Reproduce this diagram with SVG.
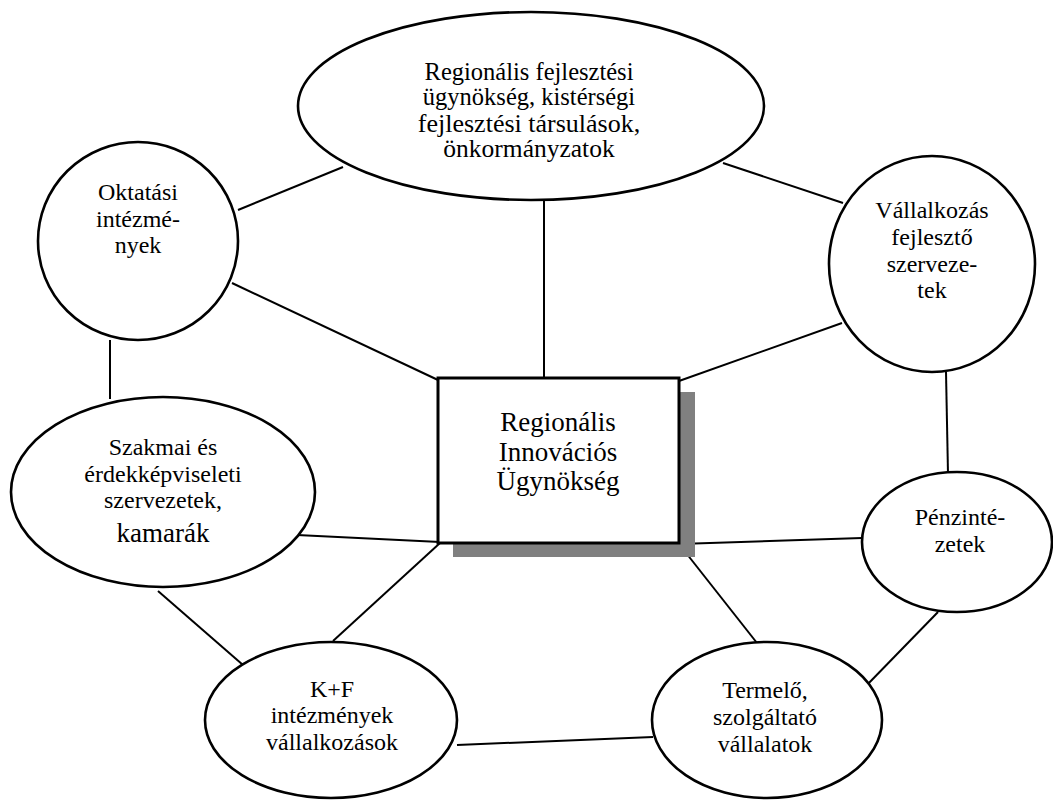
<svg xmlns="http://www.w3.org/2000/svg" width="1053" height="802" viewBox="0 0 1053 802" font-family="Liberation Serif, Times New Roman, serif">
<defs>
<style>
.n{fill:#fff;stroke:#000;stroke-width:2.6}
</style>
</defs>
<rect width="1053" height="802" fill="#fff"/>
<g id="connectors" stroke="#000" stroke-width="2">
<line x1="238" y1="210" x2="343" y2="167"/>
<line x1="723" y1="163" x2="843" y2="203"/>
<line x1="544" y1="200" x2="544" y2="378"/>
<line x1="232" y1="283" x2="438" y2="380"/>
<line x1="679" y1="381" x2="842" y2="323"/>
<line x1="110" y1="340" x2="110" y2="399"/>
<line x1="946" y1="372" x2="948" y2="474"/>
<line x1="297" y1="535" x2="440" y2="542"/>
<line x1="679" y1="544" x2="862" y2="538"/>
<line x1="158" y1="591" x2="243" y2="665"/>
<line x1="440" y1="543" x2="333" y2="641"/>
<line x1="679" y1="544" x2="757" y2="643"/>
<line x1="938" y1="612" x2="865" y2="687"/>
<line x1="457" y1="745" x2="653" y2="737"/>
</g>
<g id="top">
<ellipse class="n" cx="531" cy="106" rx="233" ry="94"/>
<text x="529" y="80" font-family="Times New Roman" font-size="24.5" text-anchor="middle">Regionális fejlesztési</text>
<text x="529" y="105" font-family="Times New Roman" font-size="24.5" text-anchor="middle">ügynökség, kistérségi</text>
<text x="529" y="132" font-family="Times New Roman" font-size="26" text-anchor="middle">fejlesztési társulások,</text>
<text x="529" y="157" font-family="Times New Roman" font-size="25.5" text-anchor="middle">önkormányzatok</text>
</g>
<g id="oktatasi">
<ellipse class="n" cx="138" cy="241" rx="100" ry="99"/>
<text x="138" y="200" font-family="Times New Roman" font-size="24" text-anchor="middle">Oktatási</text>
<text x="138" y="227" font-family="Times New Roman" font-size="24" text-anchor="middle">intézmé-</text>
<text x="138" y="253" font-family="Times New Roman" font-size="24" text-anchor="middle">nyek</text>
</g>
<g id="vallalkozas">
<ellipse class="n" cx="932" cy="264" rx="103" ry="108"/>
<text x="932" y="218" font-family="Times New Roman" font-size="24" text-anchor="middle">Vállalkozás</text>
<text x="932" y="245" font-family="Times New Roman" font-size="24" text-anchor="middle">fejlesztő</text>
<text x="932" y="272" font-family="Times New Roman" font-size="24" text-anchor="middle">szerveze-</text>
<text x="932" y="298" font-family="Times New Roman" font-size="24" text-anchor="middle">tek</text>
</g>
<g id="center">
<rect x="453" y="392" width="242" height="165" fill="#808080"/>
<rect x="438" y="378" width="241" height="165" fill="#fff" stroke="#000" stroke-width="3"/>
<text x="558" y="431" font-family="Times New Roman" font-size="27" text-anchor="middle">Regionális</text>
<text x="558" y="461" font-family="Times New Roman" font-size="27" text-anchor="middle">Innovációs</text>
<text x="558" y="490" font-family="Times New Roman" font-size="27" text-anchor="middle">Ügynökség</text>
</g>
<g id="szakmai">
<ellipse class="n" cx="163" cy="492" rx="152" ry="95"/>
<text x="163" y="455" font-family="Times New Roman" font-size="24" text-anchor="middle">Szakmai és</text>
<text x="163" y="482" font-family="Times New Roman" font-size="24" text-anchor="middle">érdekképviseleti</text>
<text x="163" y="508" font-family="Times New Roman" font-size="24" text-anchor="middle">szervezetek,</text>
<text x="163" y="542" font-family="Times New Roman" font-size="27" text-anchor="middle">kamarák</text>
</g>
<g id="penzintezetek">
<ellipse class="n" cx="957" cy="542" rx="95" ry="70"/>
<text x="960" y="525" font-family="Times New Roman" font-size="24" text-anchor="middle">Pénzinté-</text>
<text x="960" y="552" font-family="Times New Roman" font-size="24" text-anchor="middle">zetek</text>
</g>
<g id="kf">
<ellipse class="n" cx="331" cy="720" rx="126" ry="78"/>
<text x="332" y="697" font-family="Times New Roman" font-size="24" text-anchor="middle">K+F</text>
<text x="332" y="723" font-family="Times New Roman" font-size="24" text-anchor="middle">intézmények</text>
<text x="332" y="750" font-family="Times New Roman" font-size="24" text-anchor="middle">vállalkozások</text>
</g>
<g id="termelo">
<ellipse class="n" cx="767" cy="720" rx="115" ry="78"/>
<text x="765" y="698" font-family="Times New Roman" font-size="24" text-anchor="middle">Termelő,</text>
<text x="765" y="725" font-family="Times New Roman" font-size="24" text-anchor="middle">szolgáltató</text>
<text x="765" y="752" font-family="Times New Roman" font-size="24" text-anchor="middle">vállalatok</text>
</g>
</svg>
